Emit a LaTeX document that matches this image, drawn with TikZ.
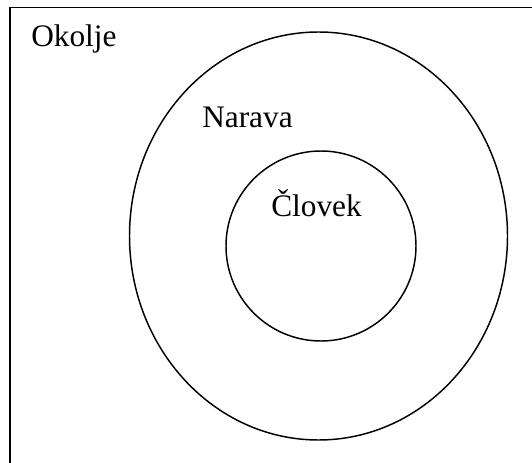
\documentclass[tikz,border=0pt]{standalone}
\usepackage{fontspec}
\setmainfont{Liberation Serif}
\tikzset{
  lbl/.style={font=\rmfamily\fontsize{23.5}{28}\selectfont, inner sep=0pt, anchor=base west},
}
\begin{document}
\begin{tikzpicture}[x=0.75pt, y=-0.75pt]
    \clip (0, 0) rectangle (532, 463);

    % Okolje
    \draw[line width=1.4pt] (9.8, 7.5) rectangle (560, 490);
    \node[lbl] (okolje) at (31, 47) {Okolje};

    % Narava
    \draw[line width=1.1pt] (318.5, 236) ellipse [x radius=189, y radius=204];
    \node[lbl] (narava) at (202, 128) {Narava};

    % Človek
    \draw[line width=1.1pt] (321, 246) circle [radius=95];
    \node[lbl] (clovek) at (271, 217) {Človek};
  \end{tikzpicture}
\end{document}
